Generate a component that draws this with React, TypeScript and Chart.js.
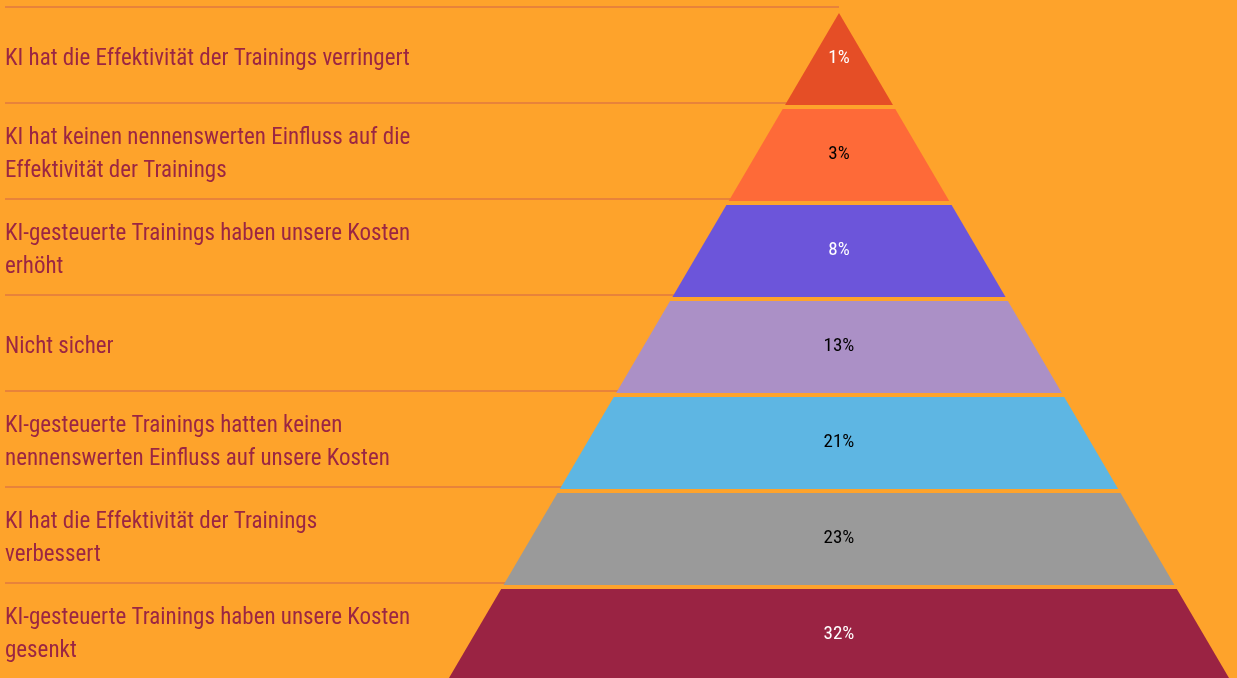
import React, { useEffect, useRef } from "react";
import { Chart, registerables } from "chart.js";

Chart.register(...registerables);

const rowLabels: string[][] = [
  ["KI hat die Effektivität der Trainings verringert"],
  ["KI hat keinen nennenswerten Einfluss auf die", "Effektivität der Trainings"],
  ["KI-gesteuerte Trainings haben unsere Kosten", "erhöht"],
  ["Nicht sicher"],
  ["KI-gesteuerte Trainings hatten keinen", "nennenswerten Einfluss auf unsere Kosten"],
  ["KI hat die Effektivität der Trainings", "verbessert"],
  ["KI-gesteuerte Trainings haben unsere Kosten", "gesenkt"],
];
const values: number[] = [1, 3, 8, 13, 21, 23, 32];
const layerColors: string[] = ["#E54E26", "#FE6A38", "#6C55DA", "#AB90C6", "#5EB6E3", "#9A9A9A", "#9A2343"];
const valueTextColors: string[] = ["#FFFFFF", "#000000", "#FFFFFF", "#000000", "#000000", "#000000", "#FFFFFF"];

const BG = "#FEA32B";
const LABEL_COLOR = "#9B2643";
const RULE_COLOR = "#E8833A";
const FONT = '"Roboto Condensed", sans-serif';

const ROWS = values.length;
const APEX = 6 / 96;
const GAP_TOP = 6 / 96;
const GAP_BOTTOM = 2 / 96;
const BASE_V = 7;
const LABEL_SHIFT = 4 / 96;

function halfWidth(v: number) {
  return (v - APEX) / (BASE_V - APEX);
}

function buildLayers() {
  return values.map((val, i) => {
    const top = i + GAP_TOP;
    const bottom = i + 1 + GAP_BOTTOM;
    const ht = halfWidth(top);
    const hb = halfWidth(bottom);
    return {
      label: `${val}%`,
      data: [
        { x: -ht, y: top },
        { x: ht, y: top },
        { x: hb, y: bottom },
        { x: -hb, y: bottom },
      ],
      backgroundColor: layerColors[i],
      borderColor: layerColors[i],
      pointRadius: 0,
      showLine: false,
    };
  });
}

const pyramidPlugin = {
  id: "pyramid",
  beforeDatasetsDraw(chart: any) {
    const { ctx, chartArea, scales } = chart;
    const cx = scales.x.getPixelForValue(0);
    ctx.save();
    ctx.strokeStyle = RULE_COLOR;
    ctx.lineWidth = 2;
    for (let i = 0; i < ROWS; i++) {
      const y = Math.round(scales.y.getPixelForValue(i));
      ctx.beginPath();
      ctx.moveTo(chartArea.left, y);
      ctx.lineTo(cx, y);
      ctx.stroke();
    }
    ctx.restore();
  },
  afterDatasetsDraw(chart: any) {
    const { ctx, scales } = chart;
    ctx.save();
    chart.data.datasets.forEach((ds: any, i: number) => {
      const pts = chart.getDatasetMeta(i).data;
      ctx.beginPath();
      pts.forEach((p: any, k: number) => {
        if (k === 0) ctx.moveTo(p.x, p.y);
        else ctx.lineTo(p.x, p.y);
      });
      ctx.closePath();
      ctx.fillStyle = ds.backgroundColor;
      ctx.fill();
    });
    ctx.font = `19px ${FONT}`;
    ctx.textAlign = "center";
    ctx.textBaseline = "middle";
    values.forEach((v, i) => {
      ctx.fillStyle = valueTextColors[i];
      ctx.fillText(`${v}%`, scales.x.getPixelForValue(0), scales.y.getPixelForValue(i + 0.5) + 3);
    });
    ctx.restore();
  },
};

export default function App() {
  const ref = useRef<HTMLCanvasElement | null>(null);
  useEffect(() => {
    document.body.style.margin = "0";
    document.body.style.background = BG;
    const canvas = ref.current;
    if (!canvas) return;
    const chart = new Chart(canvas, {
      type: "scatter",
      data: { datasets: buildLayers() as any },
      options: {
        animation: false,
        responsive: false,
        maintainAspectRatio: false,
        events: [],
        layout: { padding: { left: 5, right: 0, top: 0, bottom: 0 } },
        plugins: { legend: { display: false }, tooltip: { enabled: false } },
        scales: {
          x: {
            type: "linear",
            display: false,
            min: -834 / 390.6,
            max: 398 / 390.6,
          },
          y: {
            type: "linear",
            reverse: true,
            min: -7 / 96,
            max: 671 / 96,
            grid: { display: false, drawTicks: false },
            border: { display: false },
            afterBuildTicks: (scale: any) => {
              scale.ticks = rowLabels.map((_, i) => ({ value: i + 0.5 + LABEL_SHIFT }));
            },
            afterFit: (scale: any) => {
              scale.paddingTop = 0;
              scale.paddingBottom = 0;
              scale.width = 0;
            },
            ticks: {
              mirror: true,
              padding: 0,
              autoSkip: false,
              color: LABEL_COLOR,
              font: { family: FONT, size: 23, lineHeight: 1.43 },
              callback: (value: any) => {
                const idx = Math.floor(Number(value));
                return rowLabels[idx] ?? "";
              },
            },
          },
        },
      },
      plugins: [pyramidPlugin],
    });
    return () => chart.destroy();
  }, []);
  return (
    <div style={{ position: "fixed", left: 0, top: 0, width: 1237, height: 678, background: BG }}>
      <canvas ref={ref} width={1237} height={678} />
    </div>
  );
}
